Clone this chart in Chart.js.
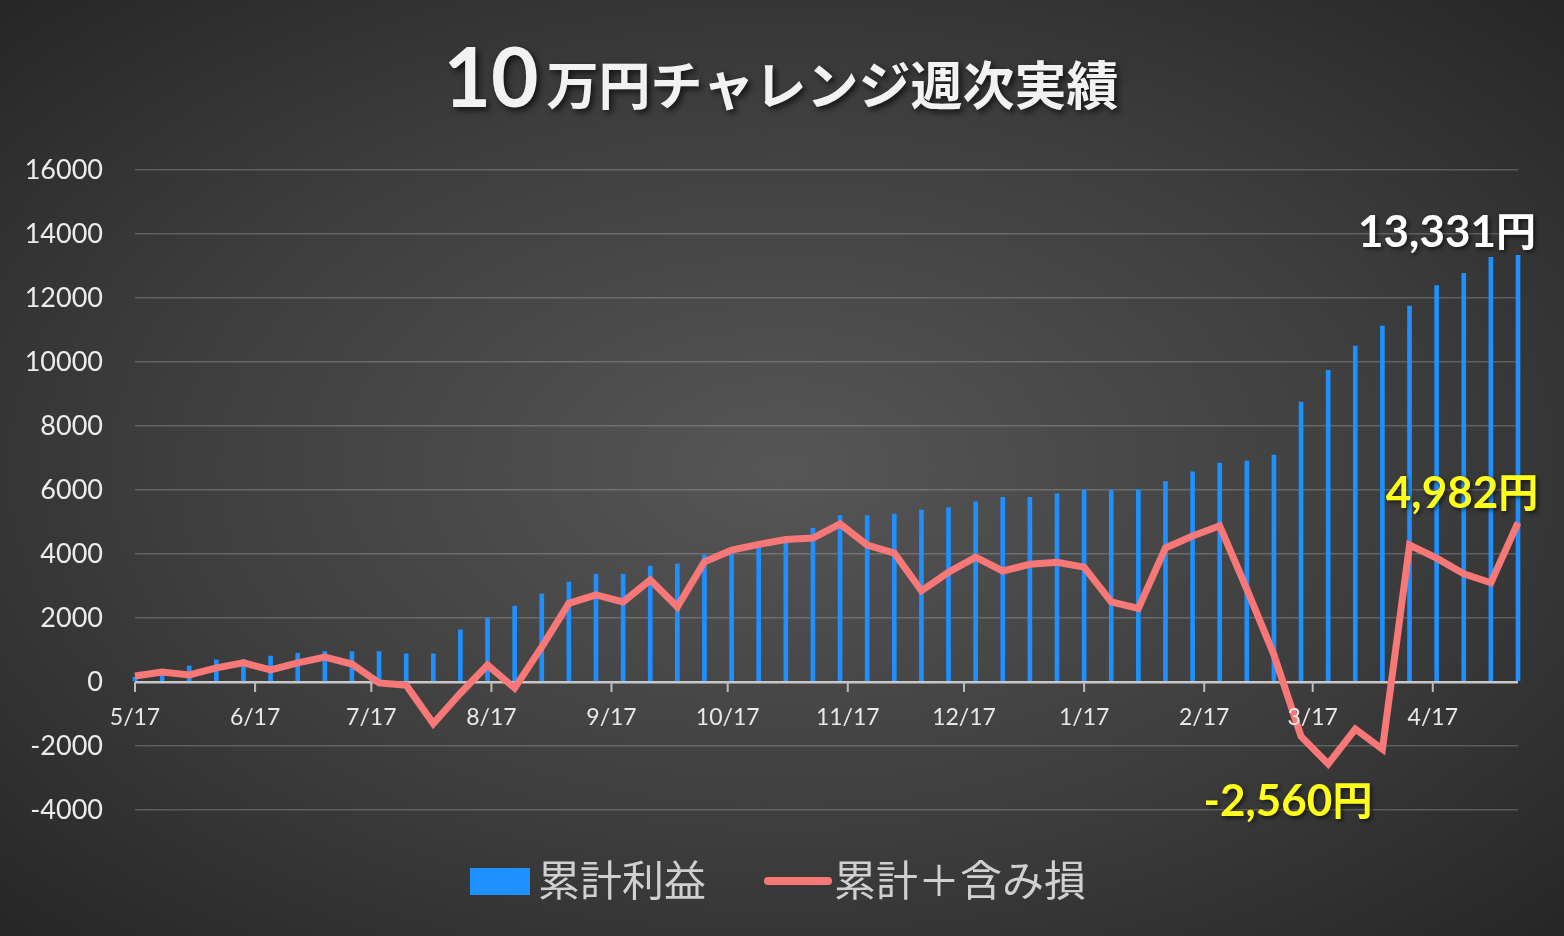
<!DOCTYPE html>
<html><head><meta charset="utf-8">
<script src="https://cdn.jsdelivr.net/npm/chart.js@4"></script>
<style>
html,body{margin:0;padding:0;}
body{width:1564px;height:936px;background:radial-gradient(ellipse at 50% 50%,#565656 0%,#3e3e3e 55%,#262626 100%);overflow:hidden;}
#c{display:block;}
</style></head><body>
<canvas id="c" width="1564" height="936"></canvas>
<script>
const weekDays = Array.from({length:52},(_,i)=>i*7); // day offsets from 5/17
const profit = [150,250,500,690,700,810,900,950,950,950,880,880,1630,2000,2370,2750,3120,3370,3370,3620,3690,3970,4120,4300,4500,4800,
  5200,5200,5250,5370,5450,5630,5770,5770,5880,6000,6000,6000,6260,6570,6840,6900,7090,8750,9740,10500,11120,11750,12390,12770,13270,13331];
const withLoss = [190,310,220,440,600,380,600,780,560,-30,-100,-1300,-350,530,-190,1100,2460,2720,2500,3190,2350,3760,4120,4300,4450,4500,
  4940,4280,4030,2850,3430,3900,3470,3680,3740,3590,2500,2300,4190,4560,4880,2900,850,-1700,-2560,-1470,-2100,4280,3870,3380,3100,4982];
const monthLabels = ['5/17','6/17','7/17','8/17','9/17','10/17','11/17','12/17','1/17','2/17','3/17','4/17'];
const monthDays = [0,31,61,92,123,153,184,214,245,276,304,335];
const yTicks = [16000,14000,12000,10000,8000,6000,4000,2000,0,-2000,-4000];
const seriesNames = ['累計利益','累計＋含み損'];
const numFont = 'Lato, "Noto Sans CJK JP", sans-serif';
const jpFont = '"Noto Sans CJK JP", sans-serif';

const deco = {
  id:'deco',
  afterDraw(ch){
    const c=ch.ctx, x=ch.scales.x, y=ch.scales.y;
    const y0=y.getPixelForValue(0);
    c.save();
    c.strokeStyle='#bdbdbd'; c.lineWidth=2;
    c.fillStyle='#e8e8e8'; c.font='23px '+numFont; c.textAlign='center'; c.textBaseline='top';
    monthDays.forEach((d,i)=>{
      const px=x.getPixelForValue(d);
      c.beginPath(); c.moveTo(px,y0); c.lineTo(px,y0+10); c.stroke();
      c.fillText(monthLabels[i],px,y0+24);
    });
    c.shadowColor='rgba(0,0,0,0.7)'; c.shadowBlur=6; c.shadowOffsetX=3; c.shadowOffsetY=3;
    c.fillStyle='#f2f2f2'; c.textBaseline='alphabetic'; c.textAlign='left';
    c.font='bold 82px '+numFont; const w1=c.measureText('10').width;
    c.font='bold 52px '+jpFont; const t2='万円チャレンジ週次実績'; const w2=c.measureText(t2).width;
    let sx=781-(w1+w2+8)/2;
    c.font='bold 82px '+numFont; c.fillText('10',sx,107);
    c.font='bold 52px '+jpFont; c.fillText(t2,sx+w1+8,105);
    c.shadowColor='rgba(0,0,0,0.6)'; c.shadowBlur=4; c.shadowOffsetX=2; c.shadowOffsetY=2;
    const ann=(txt,px,py,col)=>{
      c.fillStyle=col;
      const m=txt.match(/^(.*?)(円)$/);
      c.font='bold 44px '+numFont; const a=c.measureText(m[1]).width;
      c.font='bold 40px '+jpFont; const b=c.measureText('円').width;
      const s=px-(a+b)/2;
      c.textAlign='left';
      c.font='bold 44px '+numFont; c.fillText(m[1],s,py);
      c.font='bold 40px '+jpFont; c.fillText('円',s+a,py-1);
    };
    ann('13,331円',1447,247,'#ffffff');
    ann('4,982円',1462,508,'#ffff1a');
    ann('-2,560円',1288,816,'#ffff1a');
    c.shadowColor='transparent';
    c.fillStyle='#1e90ff'; c.fillRect(470,868,60,27);
    c.fillStyle='#d0d0d0'; c.font='42px '+jpFont; c.textBaseline='middle';
    c.fillText(seriesNames[0],538,880);
    c.strokeStyle='#f87878'; c.lineWidth=8; c.lineCap='round';
    c.beginPath(); c.moveTo(768,881); c.lineTo(828,881); c.stroke();
    c.fillText(seriesNames[1],834,880);
    c.restore();
  }
};

new Chart(document.getElementById('c'),{
  data:{datasets:[
    {type:'line',label:seriesNames[1],data:weekDays.map((d,i)=>({x:d,y:withLoss[i]})),borderColor:'#f87878',borderWidth:7,pointRadius:0,tension:0,order:0,clip:10},
    {type:'bar',label:seriesNames[0],data:weekDays.map((d,i)=>({x:d,y:profit[i]})),backgroundColor:'#1e90ff',barThickness:4,order:1,clip:10}
  ]},
  options:{
    responsive:false,animation:false,
    layout:{padding:{left:0,right:46,top:170,bottom:126}},
    plugins:{legend:{display:false},tooltip:{enabled:false}},
    scales:{
      x:{type:'linear',min:0,max:357,offset:false,display:false},
      y:{min:-4000,max:16000,
        afterBuildTicks(ax){ax.ticks=yTicks.map(v=>({value:v}));},
        afterFit(ax){ax.width=135;},
        border:{display:false},
        grid:{color:ctx=>ctx.tick&&ctx.tick.value===0?'#c8c8c8':'rgba(255,255,255,0.2)',lineWidth:ctx=>ctx.tick&&ctx.tick.value===0?2.5:1.5,drawTicks:false},
        ticks:{color:'#ececec',font:{family:'Lato',size:27},padding:32,callback:v=>String(v)}
      }
    }
  },
  plugins:[deco]
});
</script></body></html>
